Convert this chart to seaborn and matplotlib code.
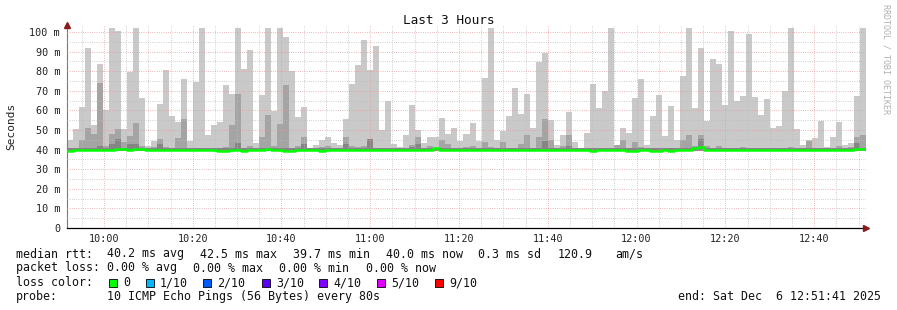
import numpy as np
import pandas as pd
import matplotlib
matplotlib.use("Agg")
import matplotlib.pyplot as plt
import matplotlib.dates as mdates
from matplotlib.patches import Rectangle
import seaborn as sns

# ---------------- data ----------------
title = "Last 3 Hours"
y_label = "Seconds"
start_time = "2025-12-06 09:51:41"
end_time = "2025-12-06 12:51:41"
smoke_floor = 39.4

smoke_max = [
    44.9, 50.5, 61.7, 91.7, 52.6, 83.7, 60.2, 102, 100.6, 50.5,
    79.8, 102, 66.3, 42.0, 44.4, 63.3, 80.6, 57.1, 54.0, 76.0,
    44.6, 74.6, 102, 47.4, 52.6, 54.0, 72.9, 68.5, 102, 81.1,
    90.8, 43.3, 67.9, 102, 59.7, 102, 97.4, 80.1, 56.6, 61.7,
    41.0, 42.4, 44.9, 46.4, 43.3, 42.4, 55.6, 73.5, 83.2, 95.9,
    80.6, 92.9, 50.0, 64.8, 43.0, 41.5, 47.4, 62.8, 50.0, 43.3,
    46.4, 46.4, 56.1, 48.0, 51.0, 44.4, 48.0, 53.5, 44.4, 76.5,
    102, 44.9, 49.5, 57.1, 71.4, 58.2, 68.4, 51.0, 84.7, 89.3,
    55.1, 42.4, 47.4, 59.2, 43.8, 41.0, 48.5, 73.5, 61.2, 69.9,
    102, 42.4, 51.0, 48.5, 66.3, 76.0, 42.4, 57.1, 67.9, 47.0,
    62.2, 44.9, 77.6, 102, 61.2, 91.8, 54.6, 86.2, 83.7, 62.8,
    100.6, 64.8, 67.3, 99.0, 66.8, 57.6, 65.8, 51.0, 52.0, 69.9,
    102, 50.5, 42.4, 44.9, 45.9, 54.6, 41.3, 46.4, 54.0, 42.4,
    43.3, 67.3, 102,
]

smoke_mid = [
    41.0, 41.0, 44.9, 51.0, 48.0, 74.0, 41.7, 48.0, 50.5, 44.0,
    47.0, 53.5, 42.0, 41.0, 41.5, 45.4, 41.5, 41.0, 45.9, 55.5,
    41.0, 41.0, 41.0, 41.0, 41.0, 41.0, 41.5, 52.6, 68.3, 41.0,
    42.0, 41.0, 46.4, 57.6, 42.0, 53.0, 73.0, 41.0, 42.0, 46.4,
    41.0, 41.0, 41.5, 42.0, 41.0, 41.0, 46.4, 42.0, 41.5, 42.0,
    45.4, 41.0, 41.0, 41.0, 41.0, 41.0, 41.0, 42.5, 46.4, 41.0,
    42.0, 41.0, 44.9, 43.0, 41.0, 41.0, 41.5, 42.0, 41.0, 43.8,
    41.5, 41.0, 43.8, 41.0, 41.0, 43.0, 47.4, 41.0, 46.4, 55.6,
    44.9, 41.0, 42.0, 47.4, 41.0, 41.0, 41.0, 41.0, 41.0, 41.0,
    41.0, 42.4, 44.9, 41.0, 43.8, 41.5, 41.0, 41.0, 41.0, 41.0,
    41.0, 41.0, 44.9, 47.4, 42.0, 47.4, 42.0, 41.0, 42.0, 41.0,
    41.0, 41.0, 41.5, 41.0, 41.0, 41.0, 41.0, 41.0, 41.0, 41.0,
    41.5, 41.0, 41.0, 44.4, 41.0, 41.0, 41.0, 41.0, 42.0, 41.0,
    41.5, 46.4, 47.4,
]

smoke_dark = [
    40.6, 40.6, 40.6, 40.6, 40.6, 42.0, 40.6, 43.0, 45.4, 40.6,
    43.0, 43.0, 40.6, 40.6, 40.6, 43.0, 40.6, 40.6, 40.6, 40.6,
    40.6, 40.6, 40.6, 40.6, 40.6, 40.6, 40.6, 40.6, 43.2, 40.6,
    40.6, 40.6, 40.6, 40.6, 40.6, 40.6, 40.6, 40.6, 40.6, 43.0,
    40.6, 40.6, 40.6, 40.6, 40.6, 40.6, 43.0, 40.6, 40.6, 40.6,
    45.4, 40.6, 40.6, 40.6, 40.6, 40.6, 40.6, 41.5, 43.0, 40.6,
    40.6, 40.6, 40.6, 40.6, 40.6, 40.6, 40.6, 40.6, 40.6, 40.6,
    40.6, 40.6, 40.6, 40.6, 40.6, 40.6, 40.6, 40.6, 40.6, 44.4,
    40.6, 40.6, 40.6, 42.0, 40.6, 40.6, 40.6, 40.6, 40.6, 40.6,
    40.6, 40.6, 40.6, 40.6, 40.6, 40.6, 40.6, 40.6, 40.6, 40.6,
    40.6, 40.6, 40.6, 40.6, 41.5, 45.4, 40.6, 40.6, 40.6, 40.6,
    40.6, 40.6, 40.6, 40.6, 40.6, 40.6, 40.6, 40.6, 40.6, 40.6,
    40.6, 40.6, 40.6, 40.6, 40.6, 40.6, 40.6, 40.6, 40.6, 40.6,
    40.6, 43.3, 40.6,
]

median = [
    39.5, 40.0, 40.0, 40.0, 40.0, 40.0, 40.0, 40.0, 40.3, 40.3,
    40.0, 40.5, 40.5, 40.0, 40.0, 40.0, 40.0, 40.0, 40.0, 40.0,
    40.0, 40.0, 40.0, 40.0, 40.0, 39.5, 39.5, 40.0, 40.0, 39.5,
    40.0, 40.0, 40.0, 40.4, 40.0, 40.0, 39.5, 39.5, 40.0, 40.0,
    40.0, 40.0, 39.5, 40.0, 40.0, 40.0, 40.0, 40.0, 40.0, 40.0,
    40.0, 40.0, 40.0, 40.0, 40.0, 40.0, 40.0, 40.0, 40.0, 40.0,
    40.0, 40.6, 40.0, 40.0, 40.0, 40.0, 40.0, 40.0, 40.0, 40.0,
    40.0, 40.0, 40.0, 40.0, 40.0, 40.0, 40.0, 40.0, 40.0, 40.0,
    40.0, 40.0, 40.0, 40.0, 40.0, 40.0, 40.0, 39.5, 40.0, 40.0,
    40.0, 40.0, 40.0, 39.5, 39.5, 40.0, 40.0, 39.5, 39.5, 40.0,
    39.5, 39.7, 39.7, 40.0, 40.8, 41.3, 40.0, 40.0, 40.0, 40.0,
    40.0, 40.0, 40.0, 40.0, 40.0, 40.0, 40.0, 40.0, 40.0, 40.0,
    40.0, 40.0, 40.0, 40.0, 40.0, 40.0, 40.0, 40.0, 40.0, 40.0,
    40.0, 40.3, 40.3,
]

y_ticks = [0, 10, 20, 30, 40, 50, 60, 70, 80, 90, 100]

stats_rtt = ["median rtt:", "40.2 ms avg", "42.5 ms max", "39.7 ms min",
             "40.0 ms now", "0.3 ms sd", "120.9", "am/s"]
stats_loss = ["packet loss:", "0.00 % avg", "0.00 % max", "0.00 % min", "0.00 % now"]
loss_labels = ["0", "1/10", "2/10", "3/10", "4/10", "5/10", "9/10"]
loss_colors = ["#00ff00", "#00b8ff", "#0059ff", "#5e00ff", "#7e00ff", "#dd00ff", "#ff0000"]
probe_text = ["probe:", "10 ICMP Echo Pings (56 Bytes) every 80s"]
end_text = "end: Sat Dec  6 12:51:41 2025"
credit = "RRDTOOL / TOBI OETIKER"

# ---------------- style ----------------
sns.set_style("white")
MONO = ["DejaVu Sans Mono"]
plt.rcParams["font.family"] = MONO

W, H = 897, 310
fig = plt.figure(figsize=(W / 100, H / 100), dpi=100)
fig.patch.set_facecolor("white")


def fx(px):
    return px / W


def fy(py):
    return 1 - py / H


ax = fig.add_axes([fx(67), fy(228), fx(866) - fx(67), fy(25) - fy(228)])
ax.set_facecolor("white")

n = len(smoke_max)
edges = pd.date_range(start_time, end_time, periods=n + 1)
edges_num = mdates.date2num(edges.to_pydatetime())
left = edges_num[:-1]
width = edges_num[1] - edges_num[0]

floor = np.full(n, smoke_floor)
ax.bar(left, np.array(smoke_max) - floor, bottom=floor, width=width,
       align="edge", color="#c9c9c9", linewidth=0, zorder=1)
ax.bar(left, np.array(smoke_mid) - floor, bottom=floor, width=width,
       align="edge", color="#a4a4a4", linewidth=0, zorder=1.1)
ax.bar(left, np.array(smoke_dark) - floor, bottom=floor, width=width,
       align="edge", color="#858585", linewidth=0, zorder=1.2)

med_df = pd.DataFrame({"t": edges_num, "rtt": list(median) + [median[-1]]})
sns.lineplot(data=med_df, x="t", y="rtt", drawstyle="steps-post",
             color="#00ff00", linewidth=1.8, estimator=None, sort=False,
             ax=ax, zorder=3)

ax.set_xlim(edges_num[0], edges_num[-1])
ax.set_ylim(0, 103.6)
ax.xaxis_date()
ax.xaxis.set_major_locator(mdates.MinuteLocator(byminute=[0, 20, 40]))
ax.xaxis.set_minor_locator(mdates.MinuteLocator(byminute=range(0, 60, 5)))
ax.xaxis.set_major_formatter(mdates.DateFormatter("%H:%M"))
ax.set_yticks(y_ticks)
ax.set_yticks([v + 5 for v in y_ticks[:-1]], minor=True)
ax.set_yticklabels(["0" if v == 0 else f"{v} m" for v in y_ticks])

ax.set_axisbelow(False)
ax.grid(which="minor", color="#bcbcbc", linestyle=(0, (0.7, 1.6)), linewidth=0.7)
ax.grid(which="major", color="#e59a9a", linestyle=(0, (0.7, 1.6)), linewidth=0.7)

ax.tick_params(which="both", length=0)
ax.tick_params(axis="y", pad=5, labelsize=7.3, colors="#222222")
ax.tick_params(axis="x", pad=4, labelsize=7.3, colors="#222222")
ax.set_xlabel("")
ax.set_ylabel("")

for s in ["top", "right"]:
    ax.spines[s].set_visible(False)
ax.spines["left"].set_color("#7a7a7a")
ax.spines["left"].set_linewidth(0.8)
ax.spines["bottom"].set_color("#000000")
ax.spines["bottom"].set_linewidth(0.9)

ax.plot([0], [1.0], marker="^", color="#8b1a1a", markersize=4,
        transform=ax.transAxes, clip_on=False, zorder=5)
ax.plot([1.0], [0], marker=">", color="#8b1a1a", markersize=4,
        transform=ax.transAxes, clip_on=False, zorder=5)

# y label
fig.text(fx(11), fy(126), y_label, rotation=90, ha="center", va="center",
         fontsize=8, color="#222222")

# title
fig.text(fx(449), fy(20), title, ha="center", va="center", fontsize=9.2, color="#111111")

# credit text
fig.text(fx(886), fy(4), credit, rotation=-90, ha="center", va="top",
         fontsize=6, color="#b0b0b0")

# legend area
FS = 8.4
TXT = "#111111"
x_rtt = [16, 107, 200, 293, 386, 478, 558, 615]
for xp, s in zip(x_rtt, stats_rtt):
    fig.text(fx(xp), fy(254), s, ha="left", va="center", fontsize=FS, color=TXT)
x_loss = [16, 107, 193, 279, 366]
for xp, s in zip(x_loss, stats_loss):
    fig.text(fx(xp), fy(268), s, ha="left", va="center", fontsize=FS, color=TXT)
fig.text(fx(16), fy(282.5), "loss color:", ha="left", va="center", fontsize=FS, color=TXT)
sq_x = [109, 146, 203, 262, 319, 377, 435]
for xp, lab, col in zip(sq_x, loss_labels, loss_colors):
    fig.add_artist(Rectangle((fx(xp), fy(287)), 8 / W, 8 / H, transform=fig.transFigure,
                             facecolor=col, edgecolor="#000000", linewidth=0.6))
    fig.text(fx(xp + 14), fy(282.5), lab, ha="left", va="center", fontsize=FS, color=TXT)
fig.text(fx(16), fy(296.5), probe_text[0], ha="left", va="center", fontsize=FS, color=TXT)
fig.text(fx(107), fy(296.5), probe_text[1], ha="left", va="center", fontsize=FS, color=TXT)
fig.text(fx(678), fy(296.5), end_text, ha="left", va="center", fontsize=FS, color=TXT)

fig.savefig("out.png", dpi=100, facecolor="white")
